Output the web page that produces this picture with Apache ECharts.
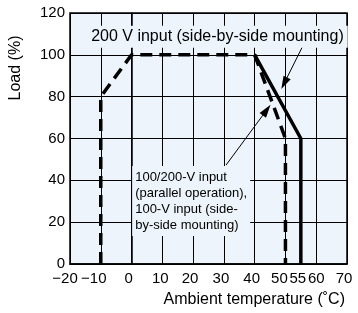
<!DOCTYPE html>
<html>
<head>
<meta charset="utf-8">
<style>
  html, body { margin: 0; padding: 0; background: #fff; }
  #chart { width: 358px; height: 313px; }
</style>
<script src="https://cdn.jsdelivr.net/npm/echarts@6/dist/echarts.min.js"></script>
</head>
<body>
<div id="chart"></div>
<script>
// derating curves, x = ambient temperature (°C), y = load (%)
const dashedX = [-10, -10, 0, 40, 50, 50];
const dashedY = [0, 80, 100, 100, 60, 0];
const solidX = [40, 55, 55];
const solidY = [100, 60, 0];
const xTickLabels = [-20, -10, 0, 10, 20, 30, 40, 50, 55, 60, 70];
const yTickLabels = [0, 20, 40, 60, 80, 100, 120];

const FONT = "'Liberation Sans', Arial, sans-serif";
const BG = "#edf4fb";

function pairs(xs, ys) {
  return xs.map(function (x, i) { return [x, ys[i]]; });
}

function minus(v) {
  return v < 0 ? "\u2212" + -v : String(v);
}

// nudge crowded tick labels a little to the left (50 / 55 sit close together)
const nudge = { "-20": 10, "-10": 14, "0": 6, "10": 4, "50": 12, "60": 0 };
const rich = {};
xTickLabels.forEach(function (v, i) {
  const p = nudge[String(v)] !== undefined ? nudge[String(v)] : 6;
  rich["t" + i] = { padding: [0, p, 0, 0], fontFamily: FONT, fontSize: 15, color: "#000" };
});

const chart = echarts.init(document.getElementById("chart"));

const option = {
  animation: false,
  grid: {
    left: 70, right: 11, top: 13, bottom: 49,
    show: true,
    backgroundColor: BG,
    borderColor: "#000",
    borderWidth: 1.5,
  },
  xAxis: {
    type: "value",
    min: -20, max: 70, interval: 10,
    name: "Ambient temperature (\u02daC)",
    nameLocation: "end",
    nameGap: -2,
    nameTextStyle: {
      fontFamily: FONT, fontSize: 16, color: "#000",
      align: "right", verticalAlign: "top", padding: [28, 0, 0, 0],
    },
    axisLine: { show: true, lineStyle: { color: "#000", width: 1.5 } },
    axisTick: { show: false },
    splitLine: { show: true, lineStyle: { color: "#000", width: 1 } },
    axisLabel: {
      customValues: xTickLabels,
      formatter: function (v) {
        return "{t" + xTickLabels.indexOf(v) + "|" + minus(v) + "}";
      },
      rich: rich,
      fontFamily: FONT, fontSize: 15, color: "#000", margin: 7,
    },
  },
  yAxis: {
    type: "value",
    min: 0, max: 120, interval: 20,
    axisLine: { show: true, lineStyle: { color: "#000", width: 1.5 } },
    axisTick: { show: false },
    splitLine: { show: true, lineStyle: { color: "#000", width: 1 } },
    axisLabel: {
      customValues: yTickLabels,
      fontFamily: FONT, fontSize: 15, color: "#000", margin: 5,
    },
  },
  graphic: [
    {
      type: "text", x: 16, y: 68, rotation: Math.PI / 2,
      style: {
        text: "Load (%)", align: "center", verticalAlign: "middle",
        fontFamily: FONT, fontSize: 16, fill: "#000",
      },
    },
  ],
  series: [
    {
      name: "100/200-V input (parallel), 100-V input (side-by-side)",
      type: "line",
      data: pairs(dashedX, dashedY),
      symbol: "none",
      z: 3,
      lineStyle: { color: "#000", width: 3.5, type: [12, 7], cap: "butt" },
      markPoint: {
        symbol: "circle",
        symbolSize: 0,
        data: [
          {
            coord: [27.9, 108.7],
            label: {
              formatter: "200 V input (side-by-side mounting)",
              fontSize: 16,
              align: "center",
              padding: [3, 4],
            },
          },
          {
            coord: [0.2, 30.1],
            label: {
              formatter: "100/200-V input\n(parallel operation),\n100-V input (side-\nby-side mounting)",
              fontSize: 13,
              lineHeight: 16,
              align: "left",
              padding: [3, 3],
            },
          },
        ],
        label: {
          show: true,
          position: "inside",
          verticalAlign: "middle",
          fontFamily: FONT,
          color: "#000",
          backgroundColor: BG,
        },
      },
    },
    {
      name: "200 V input (side-by-side mounting)",
      type: "line",
      data: pairs(solidX, solidY),
      symbol: "none",
      z: 4,
      lineStyle: { color: "#000", width: 3.5, cap: "butt" },
      markLine: {
        silent: true,
        symbol: ["none", "triangle"],
        symbolSize: 12,
        label: { show: false },
        lineStyle: { color: "#000", width: 1, type: "solid" },
        itemStyle: { color: "#000" },
        data: [
          [
            { coord: [55.8, 104.7], symbol: "none" },
            { coord: [49.6, 86.4], symbol: "triangle", symbolSize: [8, 13] },
          ],
          [
            { coord: [30.7, 47.3], symbol: "none" },
            { coord: [43.9, 73.6], symbol: "triangle", symbolSize: [8, 13] },
          ],
        ],
      },
    },
  ],
};

chart.setOption(option);

window.addEventListener("resize", function () {
  chart.resize();
});
</script>
</body>
</html>
